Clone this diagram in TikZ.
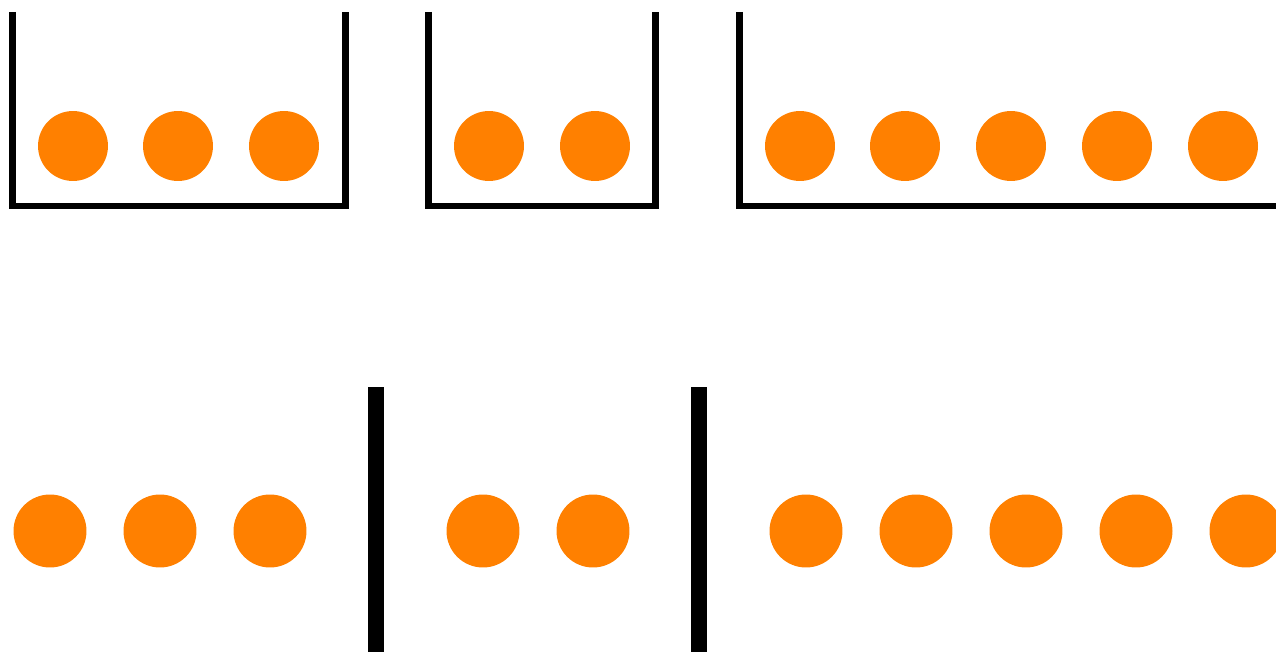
\documentclass[tikz,border=0pt]{standalone}
\usepackage{tikz}
\usepackage{xcolor}
\definecolor{ballcolor}{RGB}{255,128,0}
\tikzset{
    ball/.style={circle, fill=ballcolor, draw=none,
        inner sep=0pt},
    topball/.style={ball, minimum size=1.4cm},
    lowball/.style={ball, minimum size=1.46cm},
    binwall/.style={line width=0.14cm, line join=miter, line cap=butt, black},
    divider/.style={line width=0.32cm, line cap=butt, black}
}

\begin{document}
\begin{tikzpicture}[x=0.02cm, y=-0.02cm]

\useasboundingbox (0,0) rectangle (1276,652);
\clip (0,0) rectangle (1276,652);

% Top row: bins
\draw[binwall] (12.5,12) -- (12.5,206) -- (345,206) -- (345,12);
\draw[binwall] (428.5,12) -- (428.5,206) -- (655,206) -- (655,12);
\draw[binwall] (739.5,12) -- (739.5,206) -- (1290,206);

\foreach \x [count=\i] in {73, 178, 284}
    \node[topball] (ta\i) at (\x,146) {};
\foreach \x [count=\i] in {489, 595}
    \node[topball] (tb\i) at (\x,146) {};
\foreach \x [count=\i] in {800, 905, 1011, 1117, 1223}
    \node[topball] (tc\i) at (\x,146) {};

% Bottom row: stars and bars
\foreach \x [count=\i] in {50, 160, 270}
    \node[lowball] (ba\i) at (\x,531) {};
\draw[divider] (376,387) -- (376,660);
\foreach \x [count=\i] in {483, 593}
    \node[lowball] (bb\i) at (\x,531) {};
\draw[divider] (699,387) -- (699,660);
\foreach \x [count=\i] in {806, 916, 1026, 1136, 1246}
    \node[lowball] (bc\i) at (\x,531) {};

\end{tikzpicture}
\end{document}
